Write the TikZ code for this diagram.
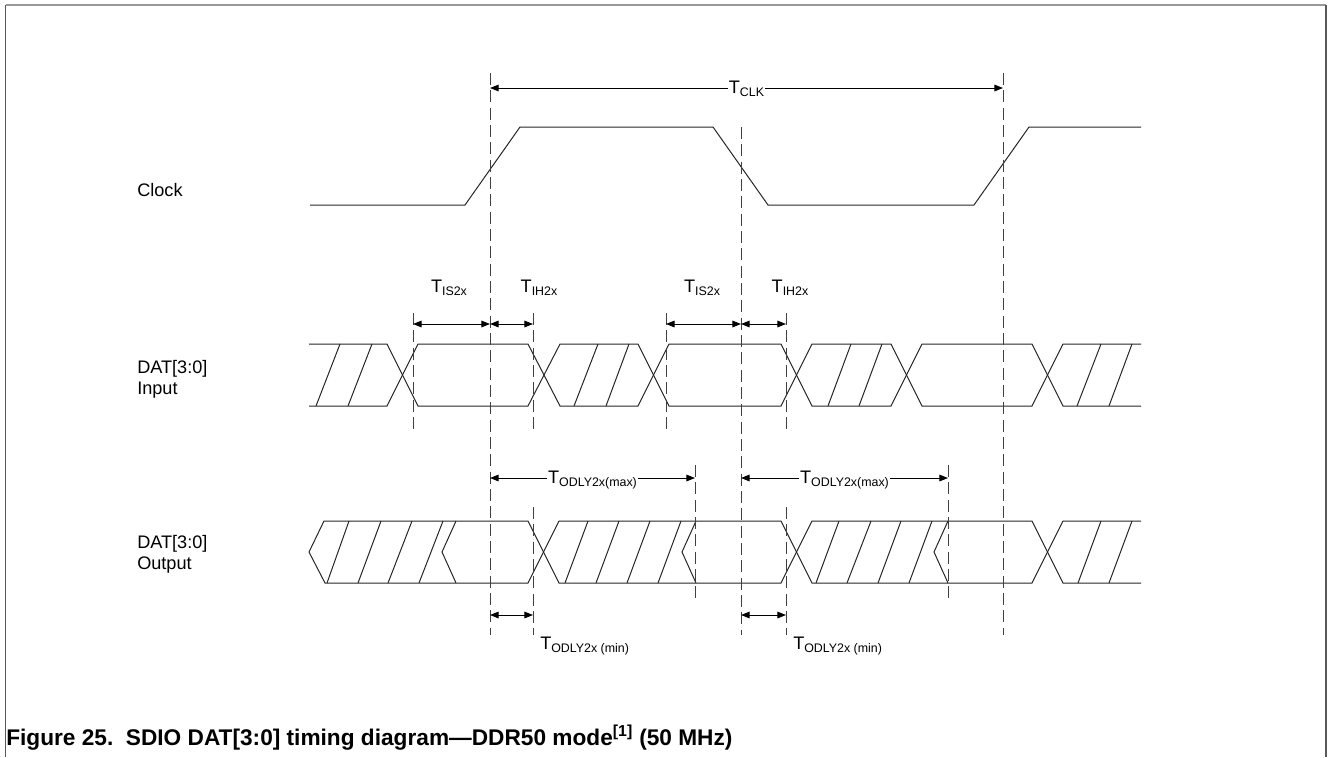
\documentclass[tikz,border=0pt]{standalone}
\usepackage{fontspec}
\setmainfont{Liberation Sans}
\usetikzlibrary{arrows.meta}
\newcommand\Tlab[1]{T\raisebox{-2.6pt}{\fontsize{9.3pt}{10pt}\selectfont #1}}

\begin{document}
\begin{tikzpicture}[x=0.75pt,y=-0.75pt,
 sig/.style={line width=0.75pt, black!85},
 hatch/.style={line width=0.75pt, black!85},
 guide/.style={line width=0.75pt, black!75, dash pattern=on 9pt off 4pt},
 dim/.style={line width=0.75pt, {Triangle[length=6.5pt,width=5pt]}-{Triangle[length=6.5pt,width=5pt]}},
 lbl/.style={font=\fontsize{13.6pt}{16pt}\selectfont, inner sep=0pt, anchor=base west},
 tl/.style={font=\fontsize{13.6pt}{16pt}\selectfont, inner sep=0pt, anchor=base},
 tlw/.style={tl, fill=white, inner sep=1pt},
 frameL/.style={line width=1.2pt, black!65},
 frameT/.style={line width=1.2pt, black!40}]

\useasboundingbox (0,0) rectangle (1328,757);

% frame
\draw[frameT] (5.5,5) -- (1326,5);
\draw[frameL] (5.5,5) -- (5.5,757);
\draw[frameL] (1326,5) -- (1326,757);

% row labels
\node[lbl] (clk) at (137,196) {Clock};
\node[lbl] (din1) at (137,373) {DAT[3:0]};
\node[lbl] (din2) at (137,394) {Input};
\node[lbl] (dout1) at (137,548) {DAT[3:0]};
\node[lbl] (dout2) at (137,569) {Output};

% clock
\draw[sig] (310,205) -- (465,205) -- (520,127) -- (713,127) -- (768,205) -- (974,205) -- (1029,127) -- (1141,127);

% input data
\draw[sig] (309,344) -- (387,344) -- (418,406) -- (528,406) -- (560,344) -- (638,344) -- (669,406) -- (781,406) -- (812,344) -- (891,344) -- (922,406) -- (1032,406) -- (1063,344) -- (1141,344);
\draw[sig] (309,406) -- (387,406) -- (418,344) -- (528,344) -- (560,406) -- (638,406) -- (669,344) -- (781,344) -- (812,406) -- (891,406) -- (922,344) -- (1032,344) -- (1063,406) -- (1141,406);
\foreach \a/\b in {316/340,348/372,574/598,606/629,828/851,859/882,1077/1101,1109/1132}
  \draw[hatch] (\a,406) -- (\b,344);

% output data
\draw[sig] (309,552) -- (324,521) -- (528,521) -- (559,583) -- (781,583) -- (812,521) -- (1032,521) -- (1063,583) -- (1141,583);
\draw[sig] (309,552) -- (325,583) -- (528,583) -- (559,521) -- (781,521) -- (812,583) -- (1032,583) -- (1063,521) -- (1141,521);
\foreach \c in {456,696,948}
  \draw[sig] (\c,521) -- (\c-14,552) -- (\c,583);
\foreach \a/\b in {327/349,358/381,388/412,419/443,565/588,596/619,627/650,658/681,816/839,847/871,878/901,909/932,1078/1101,1109/1132}
  \draw[hatch] (\a,583) -- (\b,521);

% guide lines
\coordinate (g1t) at (490,73);   \coordinate (g1b) at (490,635);
\coordinate (g2t) at (741,127);  \coordinate (g2b) at (741,635);
\coordinate (g3t) at (1003,73);  \coordinate (g3b) at (1003,635);
\draw[guide] (g1t) -- (g1b);
\draw[guide] (g2t) -- (g2b);
\draw[guide] (g3t) -- (g3b);
\foreach \x/\n in {413/a,533/b,666/c,786/d}{
  \coordinate (i\n t) at (\x,313); \coordinate (i\n b) at (\x,432);
  \draw[guide] (i\n t) -- (i\n b);}
\foreach \x/\n in {533/a,786/b}{
  \coordinate (o\n t) at (\x,507); \coordinate (o\n b) at (\x,635);
  \draw[guide] (o\n t) -- (o\n b);}
\foreach \x/\n in {695/c,948/d}{
  \coordinate (o\n t) at (\x,465); \coordinate (o\n b) at (\x,603);
  \draw[guide] (o\n t) -- (o\n b);}

% T_CLK
\coordinate (c1) at (490,88); \coordinate (c2) at (1003,88);
\draw[dim] (c1) -- (c2);
\node[tlw] (tclk) at (746.5,93) {\Tlab{CLK}};

% setup / hold input
\coordinate (s1) at (413,324); \coordinate (s2) at (490,324); \coordinate (s3) at (533,324);
\coordinate (s4) at (666,324); \coordinate (s5) at (741,324); \coordinate (s6) at (786,324);
\draw[dim] (s1) -- (s2);
\draw[dim] (s2) -- (s3);
\draw[dim] (s4) -- (s5);
\draw[dim] (s5) -- (s6);
\node[tl] (tis1) at (449,292) {\Tlab{IS2x}};
\node[tl] (tih1) at (539,292) {\Tlab{IH2x}};
\node[tl] (tis2) at (702,292) {\Tlab{IS2x}};
\node[tl] (tih2) at (790,292) {\Tlab{IH2x}};

% output delay max
\coordinate (m1) at (490,478); \coordinate (m2) at (695,478);
\coordinate (m3) at (741,478); \coordinate (m4) at (948,478);
\draw[dim] (m1) -- (m2);
\draw[dim] (m3) -- (m4);
\node[tlw] (tmax1) at (592.5,483) {\Tlab{ODLY2x(max)}};
\node[tlw] (tmax2) at (844.5,483) {\Tlab{ODLY2x(max)}};

% output delay min
\coordinate (n1) at (490,615); \coordinate (n2) at (533,615);
\coordinate (n3) at (741,615); \coordinate (n4) at (786,615);
\draw[dim] (n1) -- (n2);
\draw[dim] (n3) -- (n4);
\node[lbl] (tmin1) at (540,649) {\Tlab{ODLY2x (min)}};
\node[lbl] (tmin2) at (793,649) {\Tlab{ODLY2x (min)}};

% caption
\node[anchor=base west, inner sep=0pt, font=\bfseries\fontsize{17pt}{20pt}\selectfont] (cap) at (6,745)
  {Figure 25.\ \ SDIO DAT[3:0] timing diagram—DDR50 mode\textsuperscript{[1]} (50 MHz)};
\end{tikzpicture}
\end{document}
